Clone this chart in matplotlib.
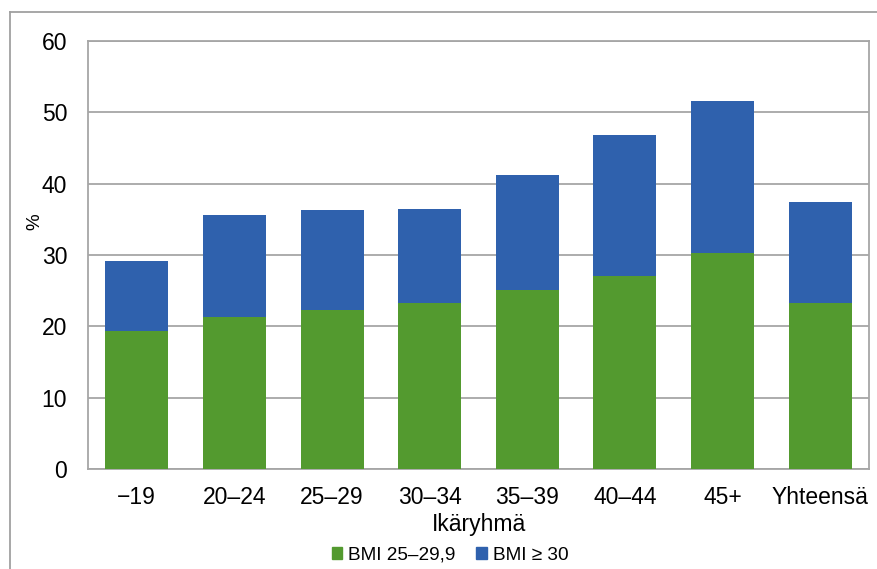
import matplotlib.pyplot as plt
from matplotlib.lines import Line2D
from matplotlib.patches import Patch

plt.rcParams['font.family'] = ['Liberation Sans', 'DejaVu Sans']

age_groups = ['\u221219', '20\u201324', '25\u201329', '30\u201334', '35\u201339', '40\u201344', '45+', 'Yhteens\u00e4']
overweight = [19.4, 21.3, 22.3, 23.3, 25.1, 27.1, 30.3, 23.3]
obese = [9.8, 14.3, 14.0, 13.2, 16.1, 19.7, 21.3, 14.1]

green = '#539A2F'
blue = '#2F61AD'
grid_col = '#A6A6A6'

fig = plt.figure(figsize=(8.77, 5.69), dpi=100)
ax = fig.add_axes([88/877, 100/569, 781/877, 428/569])

x = range(len(age_groups))
ax.bar(x, overweight, width=0.645, color=green, zorder=3)
ax.bar(x, obese, width=0.645, bottom=overweight, color=blue, zorder=3)

ax.set_xlim(-0.5, len(age_groups) - 0.5)
ax.set_ylim(0, 60)
ax.set_yticks(range(0, 61, 10))
ax.set_xticks(list(x))
ax.set_xticklabels(age_groups)
ax.tick_params(length=0, labelsize=16.5, colors='black')
ax.tick_params(axis='y', pad=15)
ax.tick_params(axis='x', pad=12)
ax.yaxis.grid(True, color=grid_col, linewidth=1.3, zorder=0)
for s in ax.spines.values():
    s.set_color(grid_col)
    s.set_linewidth(1.3)

ax.set_xlabel('Ik\u00e4ryhm\u00e4', fontsize=16.5, labelpad=3)
fig.text(35/877, 1 - 222/569, '%', rotation=90, fontsize=13.5, ha='center', va='center')

handles = [Patch(color=green, label='BMI 25\u201329,9'), Patch(color=blue, label='BMI \u2265 30')]
fig.legend(handles=handles, loc='center', bbox_to_anchor=(450/877, 1 - 555/569), ncol=2,
           frameon=False, fontsize=13.7, handlelength=0.55, handleheight=0.55,
           handletextpad=0.3, columnspacing=1.1)

# outer chart frame
fig.add_artist(Line2D([10/877, 1], [1 - 12/569, 1 - 12/569], color='#A0A0A0', linewidth=1.3))
fig.add_artist(Line2D([10/877, 10/877], [0, 1 - 12/569], color='#A0A0A0', linewidth=1.3))

fig.savefig('out.png', dpi=100)
